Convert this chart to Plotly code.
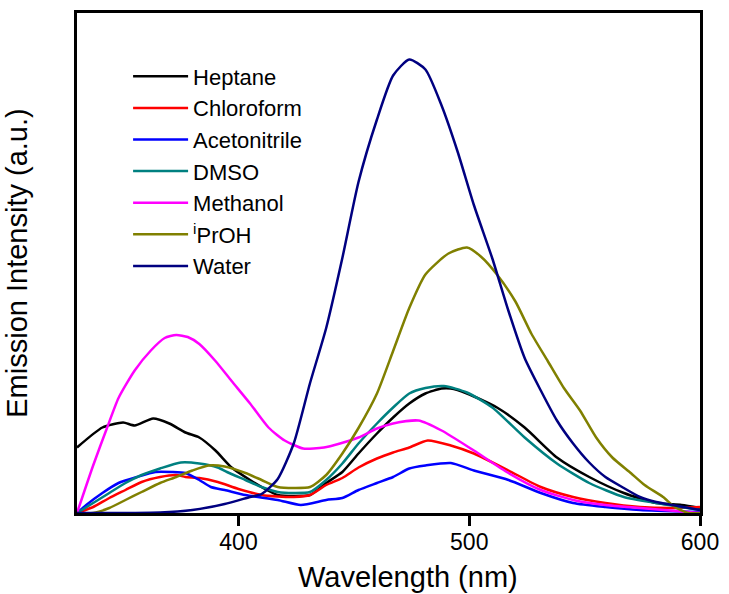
import plotly.graph_objects as go

# ---- data (wavelength in nm, intensity in arbitrary units) ----
heptane_x = [330, 341, 350, 355, 363, 370, 377, 383, 390, 397, 405, 414, 417, 424, 431, 438, 445, 452, 460, 467, 474, 481, 488, 492, 499, 512, 524, 538, 552, 567, 581, 592, 600]
heptane_y = [13.1, 17.1, 18.1, 17.5, 18.9, 17.9, 16.1, 15.1, 12.5, 9.1, 6.6, 4.2, 3.6, 3.4, 3.6, 6.0, 8.2, 11.9, 15.9, 19.1, 21.9, 23.9, 24.9, 24.9, 23.9, 21.1, 17.1, 11.1, 7.2, 4.0, 2.0, 1.6, 1.0]

chloroform_x = [330, 337, 344, 351, 358, 366, 373, 377, 383, 391, 400, 410, 417, 424, 431, 438, 445, 452, 460, 467, 474, 482, 492, 502, 517, 531, 545, 559, 574, 588, 600]
chloroform_y = [0, 1.2, 3.0, 4.6, 6.2, 7.2, 7.6, 7.2, 7.0, 6.2, 4.8, 3.6, 3.3, 3.2, 3.6, 5.6, 7.0, 9.1, 10.9, 12.1, 13.1, 14.5, 13.5, 11.9, 8.5, 5.2, 3.2, 2.0, 1.2, 1.0, 1.2]

acetonitrile_x = [330, 334, 341, 348, 356, 364, 371, 377, 383, 388, 394, 403, 417, 427, 438, 445, 452, 460, 467, 474, 481, 492, 502, 517, 531, 545, 559, 574, 600]
acetonitrile_y = [0, 1.6, 4.0, 6.0, 7.2, 8.2, 8.2, 8.0, 6.6, 5.2, 4.6, 3.6, 2.6, 1.6, 2.6, 3.0, 4.6, 6.0, 7.2, 8.9, 9.5, 10.0, 8.5, 6.6, 4.0, 2.0, 1.2, 0.6, 0.2]

dmso_x = [330, 337, 344, 351, 358, 366, 375, 383, 391, 395, 403, 410, 417, 424, 431, 438, 445, 452, 460, 467, 474, 481, 489, 499, 510, 524, 538, 552, 567, 581, 600]
dmso_y = [0, 2.0, 4.0, 6.0, 7.6, 8.9, 10.1, 9.9, 9.1, 8.2, 6.6, 5.2, 4.2, 4.0, 4.2, 6.6, 9.9, 13.9, 17.9, 21.1, 23.9, 25.0, 25.4, 24.1, 21.1, 15.1, 9.9, 6.0, 3.2, 2.0, 0.6]

methanol_x = [330, 337, 343, 348, 355, 362, 368, 373, 378, 383, 390, 397, 405, 413, 420, 428, 437, 444, 452, 460, 467, 478, 488, 502, 517, 531, 545, 559, 574, 600]
methanol_y = [0, 9.5, 17.0, 23.0, 28.5, 32.5, 35.0, 35.6, 35.2, 33.8, 30.4, 26.4, 21.9, 17.1, 14.5, 12.9, 13.1, 13.9, 15.1, 16.9, 17.9, 18.5, 16.5, 12.5, 8.0, 4.6, 2.6, 1.6, 1.0, 0]

iproh_x = [330, 337, 344, 351, 358, 366, 373, 380, 387, 394, 403, 410, 417, 424, 431, 438, 445, 452, 460, 467, 474, 481, 491, 499, 505, 512, 520, 527, 534, 541, 548, 555, 562, 570, 576, 584, 589, 595, 600]
iproh_y = [0, 0, 1.0, 2.6, 4.2, 6.0, 7.2, 8.5, 9.5, 9.3, 8.0, 6.6, 5.2, 5.0, 5.2, 7.6, 11.9, 17.0, 23.9, 32.4, 41.0, 47.7, 51.9, 53.1, 51.3, 47.7, 42.3, 35.8, 30.4, 25.0, 20.5, 15.1, 11.1, 8.0, 5.6, 3.2, 1.2, 0, 0]

water_x = [330, 366, 380, 394, 405, 410, 417, 424, 431, 438, 445, 452, 460, 467, 474, 481, 488, 495, 502, 510, 517, 524, 531, 538, 545, 552, 559, 567, 574, 581, 588, 600]
water_y = [0, 0.1, 0.6, 1.8, 3.2, 3.8, 6.8, 14.0, 26.0, 37.0, 51.0, 66.2, 78.7, 87.5, 90.7, 88.7, 81.5, 72.2, 61.6, 50.9, 40.4, 31.0, 24.5, 18.5, 13.9, 10.1, 7.2, 5.0, 3.2, 2.2, 1.6, 0.6]

series_names = ["Heptane", "Chloroform", "Acetonitrile", "DMSO", "Methanol", "<sup>i</sup>PrOH", "Water"]
series_x = [heptane_x, chloroform_x, acetonitrile_x, dmso_x, methanol_x, iproh_x, water_x]
series_y = [heptane_y, chloroform_y, acetonitrile_y, dmso_y, methanol_y, iproh_y, water_y]
series_colors = ["#000000", "#FF0000", "#0000FF", "#008080", "#FF00FF", "#808000", "#000080"]

x_ticks = [400, 500, 600]
x_title = "Wavelength (nm)"
y_title = "Emission Intensity (a.u.)"

fig = go.Figure()
for name, xs, ys, c in zip(series_names, series_x, series_y, series_colors):
    fig.add_trace(go.Scatter(x=xs, y=ys, mode="lines", name=name,
                             line=dict(color=c, width=2.5, shape="spline", smoothing=0.6)))

font_family = "Liberation Sans, Arial, sans-serif"
fig.update_layout(
    width=729, height=594,
    margin=dict(l=77, r=21, t=10, b=81),
    paper_bgcolor="white", plot_bgcolor="white",
    font=dict(family=font_family, color="black"),
    showlegend=True,
    legend=dict(x=0.082, y=0.915, xanchor="left", yanchor="top",
                bgcolor="rgba(0,0,0,0)", borderwidth=0, itemwidth=55,
                font=dict(size=22, family=font_family), tracegroupgap=0),
    annotations=[dict(text=x_title, xref="paper", yref="paper", x=0.532, y=-0.128,
                      xanchor="center", yanchor="middle", showarrow=False,
                      font=dict(size=29, family=font_family, color="black"))],
)
fig.update_xaxes(range=[330, 600], tickvals=x_ticks, ticks="outside", ticklen=10, tickwidth=3,
                 tickcolor="black", showline=True, linecolor="black", linewidth=3, mirror=True,
                 showgrid=False, zeroline=False, tickfont=dict(size=23))
try:
    fig.update_xaxes(ticklabelstandoff=-4)
except ValueError:
    pass
fig.update_yaxes(range=[0, 100], showticklabels=False, ticks="", showline=True, linecolor="black",
                 linewidth=3, mirror=True, showgrid=False, zeroline=False,
                 title=dict(text=y_title, font=dict(size=29), standoff=38))

fig.write_html("out.html", config={"displayModeBar": False},
               post_script="document.body.style.margin='0';document.body.style.overflow='hidden';"
                           "document.documentElement.style.overflow='hidden';")
